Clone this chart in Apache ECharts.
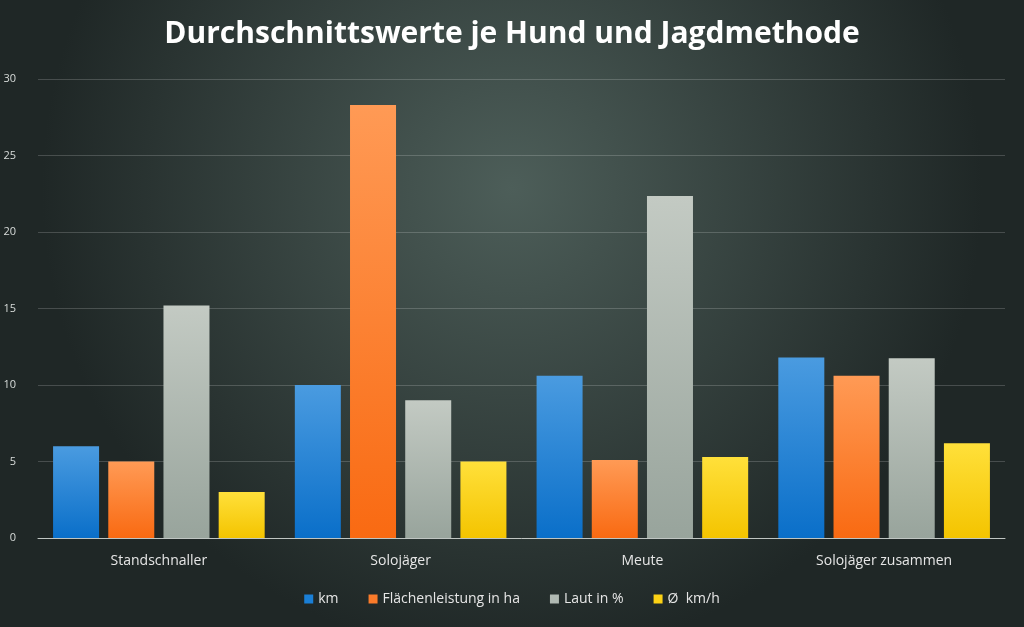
<!DOCTYPE html>
<html>
<head>
<meta charset="utf-8">
<script src="https://cdn.jsdelivr.net/npm/echarts@6/dist/echarts.min.js"></script>
<style>
  html, body { margin: 0; padding: 0; }
  #main { width: 1024px; height: 627px; }
</style>
</head>
<body>
<div id="main"></div>
<script>
const categories = ['Standschnaller', 'Solojäger', 'Meute', 'Solojäger zusammen'];
const seriesNames = ['km', 'Flächenleistung in ha', 'Laut in %', 'Ø  km/h'];
const kmValues = [6.0, 10.0, 10.6, 11.8];
const flaecheValues = [5.0, 28.3, 5.1, 10.6];
const lautValues = [15.2, 9.0, 22.35, 11.75];
const speedValues = [3.0, 5.0, 5.3, 6.2];

const chart = echarts.init(document.getElementById('main'));

function grad(top, bottom) {
    return new echarts.graphic.LinearGradient(0, 0, 0, 1, [
        { offset: 0, color: top },
        { offset: 1, color: bottom }
    ]);
}

const colors = [
    grad('#4a9be0', '#0a6fc9'),
    grad('#ff9a55', '#f96a12'),
    grad('#c3cac3', '#98a49c'),
    grad('#ffe03a', '#f4c400')
];
const legendColors = ['#1a7fd6', '#fb7b2a', '#b0b9b2', '#fcd215'];

const dataSets = [kmValues, flaecheValues, lautValues, speedValues];

chart.setOption({
    backgroundColor: new echarts.graphic.RadialGradient(0.5, 0.3, 0.75, [
        { offset: 0, color: '#4d5e59' },
        { offset: 1, color: '#1f2726' }
    ]),
    title: {
        text: 'Durchschnittswerte je Hund und Jagdmethode',
        left: 'center',
        top: 14,
        textStyle: { color: '#ffffff', fontSize: 30, fontWeight: 'bold', fontFamily: 'Open Sans' }
    },
    legend: {
        bottom: 16,
        itemWidth: 9,
        itemHeight: 9,
        itemGap: 30,
        icon: 'rect',
        textStyle: { color: '#e6e6e6', fontSize: 14, fontFamily: 'Open Sans' },
        data: seriesNames.map((n, i) => ({ name: n, itemStyle: { color: legendColors[i] } }))
    },
    grid: { left: 38, right: 19, top: 79, bottom: 89 },
    xAxis: {
        type: 'category',
        data: categories,
        axisLine: { lineStyle: { color: '#bfc5c2' } },
        axisTick: { show: false },
        axisLabel: { color: '#e6e6e6', fontSize: 14, margin: 16, fontFamily: 'Open Sans' }
    },
    yAxis: {
        type: 'value',
        min: 0,
        max: 30,
        interval: 5,
        axisLine: { show: false },
        axisTick: { show: false },
        axisLabel: { color: '#d8dcda', fontSize: 11, margin: 22, fontFamily: 'Open Sans' },
        splitLine: { lineStyle: { color: 'rgba(255,255,255,0.18)' } }
    },
    series: seriesNames.map((n, i) => ({
        name: n,
        type: 'bar',
        data: dataSets[i],
        barWidth: 46,
        barGap: '20%',
        itemStyle: { color: colors[i], shadowColor: 'rgba(0,0,0,0.4)', shadowBlur: 4, shadowOffsetX: 2 }
    }))
});
</script>
</body>
</html>
